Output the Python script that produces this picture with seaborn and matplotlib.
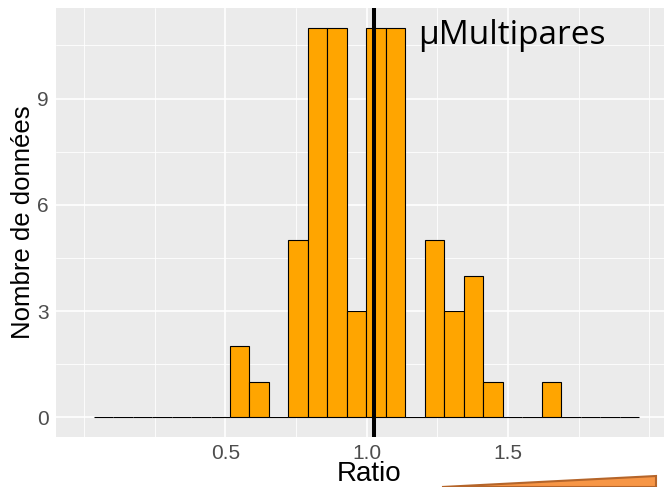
import matplotlib
matplotlib.use("Agg")
import matplotlib.pyplot as plt
import seaborn as sns
import numpy as np
import pandas as pd
from matplotlib.ticker import FixedLocator
from matplotlib.patches import Polygon

# histogram: 28 bins of width 0.069 starting at 0.033
bin_start = 0.033
bin_width = 0.069
counts = [0, 0, 0, 0, 0, 0, 0,
          2, 1, 0, 5, 11, 11, 3, 11, 11, 0, 5, 3, 4, 1, 0, 0, 1,
          0, 0, 0, 0]
mean_ratio = 1.026
x_ticks = [0.5, 1.0, 1.5]
y_ticks = [0, 3, 6, 9]

edges = bin_start + bin_width * np.arange(len(counts) + 1)
centers = (edges[:-1] + edges[1:]) / 2
df = pd.DataFrame({"Ratio": centers, "n": counts})

sns.set_theme(style="darkgrid", rc={
    "axes.facecolor": "#EBEBEB",
    "grid.color": "white",
})
plt.rcParams["font.family"] = ["Liberation Sans", "DejaVu Sans"]

fig = plt.figure(figsize=(6.64, 4.87), dpi=100)
ax = fig.add_axes([56 / 664, 1 - 436.7 / 487, 608 / 664, 428.4 / 487])

sns.histplot(data=df, x="Ratio", weights="n", bins=list(edges), color="#FFA500",
             edgecolor="black", linewidth=0.8, alpha=1, ax=ax)
ax.axvline(mean_ratio, color="black", linewidth=2.9)

ax.set_xlim(-0.0998, 2.052)
ax.set_ylim(-0.55, 11.55)
ax.xaxis.set_major_locator(FixedLocator(x_ticks))
ax.xaxis.set_minor_locator(FixedLocator([0, 0.25, 0.75, 1.25, 1.75, 2.0]))
ax.yaxis.set_major_locator(FixedLocator(y_ticks))
ax.yaxis.set_minor_locator(FixedLocator([1.5, 4.5, 7.5, 10.5]))
ax.grid(which="major", color="white", linewidth=1.2)
ax.grid(which="minor", color="white", linewidth=0.6)
ax.set_axisbelow(True)
for s in ax.spines.values():
    s.set_visible(False)

ax.tick_params(which="major", length=3, width=0.8, color="#333333",
               labelsize=15, labelcolor="#4D4D4D", pad=2)
ax.tick_params(which="minor", length=0)

ax.set_xlabel("Ratio", fontsize=20, color="black", va="center")
ax.xaxis.set_label_coords(0.5156, -0.087)
ax.set_ylabel("Nombre de données", fontsize=18.5, color="black", va="center")
ax.yaxis.set_label_coords(-0.055, 0.5)

ax.text(0.596, 0.9167, "µMultipares", transform=ax.transAxes,
        fontsize=24, family=["Open Sans", "DejaVu Sans"], color="black",
        va="baseline", ha="left")

# orange arrow shape at the bottom edge
fig.patches.append(Polygon([(442 / 664, 0.0), (656 / 664, 11 / 487), (656 / 664, 0.0)],
                           closed=True, transform=fig.transFigure,
                           facecolor="#F79646", edgecolor="#B5652A", linewidth=1.5))

fig.savefig("out.png", dpi=100)
